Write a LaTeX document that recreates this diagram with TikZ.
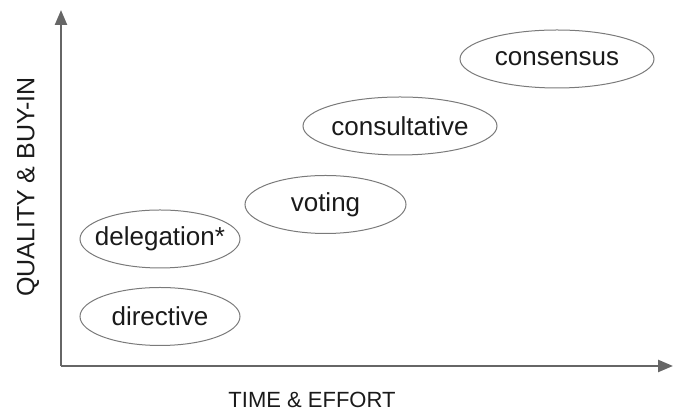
\documentclass[tikz,border=0pt]{standalone}
\usepackage{fontspec}
\setmainfont{Liberation Sans}
\usetikzlibrary{shapes.geometric,arrows.meta}
\definecolor{axisgray}{HTML}{666666}
\definecolor{rimgray}{HTML}{7A7A7A}
\definecolor{inkgray}{HTML}{1A1A1A}
\tikzset{
  mode/.style={ellipse,draw=rimgray,line width=1pt,inner xsep=-30pt,inner ysep=-8pt,
    minimum height=58pt,text=inkgray,font=\fontsize{26}{30}\selectfont},
  axis/.style={draw=axisgray,line width=2.4pt,
    -{Triangle[length=15pt,width=12pt]}},
  axislabel/.style={text=inkgray}
}
\begin{document}
\begin{tikzpicture}[x=1pt,y=1pt]
        \path[use as bounding box] (0,0) rectangle (673,414);
        \coordinate (o) at (61,48);
        \coordinate (ytop) at (61,404);
        \coordinate (xend) at (673,48);
        \path[axis] (o) -- (ytop);
        \path[axis] (o) -- (xend);
        \node[axislabel,font=\fontsize{22}{26}\selectfont] at (312,14) (xl) {TIME \& EFFORT};
        \node[axislabel,rotate=90,font=\fontsize{25}{29}\selectfont] at (28,227) (yl) {QUALITY \& BUY-IN};
        \node[mode,minimum width=160pt] at (160,97.5) (dir) {directive};
        \node[mode,minimum width=160pt] at (160,175) (del) {delegation*};
        \node[mode,minimum width=161pt] at (325.5,209.5) (vot) {voting};
        \node[mode,minimum width=194pt] at (400,288) (cons) {consultative};
        \node[mode,minimum width=194pt] at (557,355) (cnsus) {consensus};
      \end{tikzpicture}
\end{document}
